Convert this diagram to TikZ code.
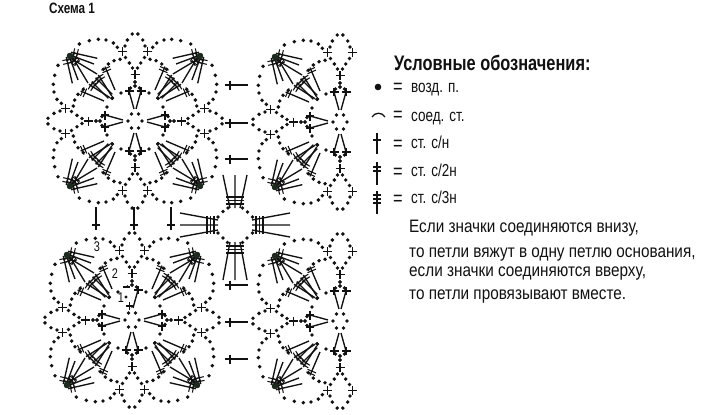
\documentclass[tikz,border=0pt]{standalone}
\usepackage{fontspec}
\usetikzlibrary{calc}
\newfontfamily\cond[FakeStretch=0.78]{Liberation Sans}
\newfontfamily\bodyf[FakeStretch=0.85]{Liberation Sans}
\definecolor{ink}{HTML}{111111}
\definecolor{blobc}{HTML}{1C2A1E}
\tikzset{
  oNL/.style={x={(1pt,0pt)},y={(0pt,-1pt)}},
  oNR/.style={x={(-1pt,0pt)},y={(0pt,-1pt)}},
  oSL/.style={x={(1pt,0pt)},y={(0pt,1pt)}},
  oSR/.style={x={(-1pt,0pt)},y={(0pt,1pt)}},
  oWU/.style={x={(0pt,-1pt)},y={(1pt,0pt)}},
  oWD/.style={x={(0pt,1pt)},y={(1pt,0pt)}},
  oEU/.style={x={(0pt,-1pt)},y={(-1pt,0pt)}},
  oED/.style={x={(0pt,1pt)},y={(-1pt,0pt)}},
  yarn/.style={draw=ink,line width=1.35pt},
  thin yarn/.style={draw=ink,line width=1.05pt},
  legendtext/.style={anchor=base west,inner sep=0pt,text=ink,font=\cond\fontsize{17.3}{19}\selectfont},
  eqtext/.style={anchor=base west,inner sep=0pt,text=ink,font=\cond\fontsize{21}{23}\selectfont},
  bodytext/.style={anchor=base west,inner sep=0pt,text=ink,font=\bodyf\fontsize{18}{20}\selectfont},
  marktext/.style={inner sep=0pt,text=ink,font=\cond\fontsize{14}{16}\selectfont},
}
\newcommand\ChainDots[1]{\foreach \p in {#1}{\fill[ink] \p circle[radius=1.95pt];}}
\newcommand\PlusAt[2]{\draw[yarn] (#1-4.5,#2)--(#1+4.5,#2) (#1,#2-4.5)--(#1,#2+4.5);}
\newcommand\TickedLine[6]{% x1 y1 x2 y2 pos1 pos2
  \path (#1,#2)--(#3,#4) coordinate[pos=#5](ta) coordinate[pos=#6](tb) coordinate[pos=1](tc);
  \draw[yarn] (#1,#2)--(#3,#4);
  \draw[thin yarn] ($(ta)!4.6pt!90:(tc)$)--($(ta)!4.6pt!-90:(tc)$);
  \draw[thin yarn] ($(tb)!4.6pt!90:(tc)$)--($(tb)!4.6pt!-90:(tc)$);
}
\newcommand\AxisPart{
  \ChainDots{(-2.8,-87),(-7.7,-81),(-10,-75),(-9.5,-63.5),(-5.7,-58),(-2.5,-53),
    (0,-39),(0,-35),(-4.5,-33)}
  \PlusAt{-12.3}{-69.3}
  \PlusAt{0}{-46.7}
  \draw[yarn] (-1,-12)--(-6,-30);
  \draw[thin yarn] (-10.5,-30)--(-1.5,-30) (-6,-34)--(-6,-26);
}
\newcommand\CornerPart{
  \ChainDots{(-17.7,-73.7),(-21.7,-78),(-29,-81),(-36.7,-81.7),(-45.7,-80.3),(-55.7,-77),
    (-15,-61.7),(-21,-60.3),(-26.7,-57),(-31.7,-51.7),(-14,-28),(-23,-22.7)}
  \TickedLine{-20}{-31}{-30}{-54.3}{.82}{.93}
  \TickedLine{-23.3}{-25}{-36.7}{-46}{.8}{.92}
  \TickedLine{-26.7}{-22.7}{-43.3}{-39.3}{.8}{.92}
  \TickedLine{-37.7}{-62.7}{-64}{-68.7}{.76}{.9}
  \TickedLine{-41}{-57}{-64}{-65.5}{.78}{.9}
  \TickedLine{-38}{-47}{-63}{-62}{.8}{.92}
  \fill[blobc] (-65,-65) circle[radius=3.2pt];
}
\newcommand\CenterRing{
  \ChainDots{(-3.5,-7),(3.5,-7),(-3.5,7),(3.5,7),(-7,0),(7,0)}
}
\newcommand\FullMotif[2]{
  \begin{scope}[shift={(#1,#2)}]
    \CenterRing
    \foreach \oct in {oNL,oNR,oSL,oSR,oWU,oWD,oEU,oED}{
      \begin{scope}[\oct]\AxisPart\CornerPart\end{scope}
    }
  \end{scope}
}
\newcommand\HalfMotif[2]{
  \begin{scope}[shift={(#1,#2)}]
    \CenterRing
    \foreach \oct in {oNL,oNR,oSL,oSR,oWU,oWD}{
      \begin{scope}[\oct]\AxisPart\end{scope}
    }
    \foreach \oct in {oNL,oSL,oWU,oWD}{
      \begin{scope}[\oct]\CornerPart\end{scope}
    }
  \end{scope}
}
\newcommand\MiddleFan[1]{
  \draw[yarn] (-5,-17)--(-12,-#1) (0,-17)--(0,-#1) (5,-17)--(12,-#1);
  \draw[thin yarn] (-9,-21)--(9,-21) (-9,-24.5)--(9,-24.5) (-9,-28)--(9,-28);
}
\begin{document}
\begin{tikzpicture}[x=1pt,y=-1pt]
\useasboundingbox (0,0) rectangle (702,415);
\fill[white] (0,0) rectangle (702,415);
\node[anchor=base west,inner sep=0pt,text=ink,font=\cond\bfseries\fontsize{15}{17}\selectfont] (title) at (49,13) {Схема 1};

\FullMotif{135}{121}
\FullMotif{132}{320}
\HalfMotif{340}{122}
\HalfMotif{340}{321}

\foreach \yy in {85,123,159,285,322,359}{
  \draw[yarn] (225,\yy)--(248,\yy);
  \draw[thin yarn] (230,\yy-4.5)--(230,\yy+4.5);
}
\foreach \xx in {96,134,171}{
  \draw[yarn] (\xx,207)--(\xx,230);
  \draw[thin yarn] (\xx-4,225)--(\xx+4,225);
}
\begin{scope}[shift={(235,225)}]
  \ChainDots{(-7,-17),(-12,-13.5),(-17,-8),(-17,8),(-12,13),(-7.5,17.5),(7.5,17.5),(12,13),(17.5,8),(17.5,-8),(12.5,-13),(7.5,-17)}
  \begin{scope}[oNL]\MiddleFan{50}\end{scope}
  \begin{scope}[oSL]\MiddleFan{55}\end{scope}
  \begin{scope}[oWU]\MiddleFan{55}\end{scope}
  \begin{scope}[oEU]\MiddleFan{55}\end{scope}
\end{scope}
\fill[white] (120,288) rectangle (130.6,308);
\draw[yarn] (129.5,310)--(129.5,302);
\draw[thin yarn] (125.5,306)--(133.5,306);
\draw[thin yarn] (123,287)--(130,287);
\fill[ink] (126,297) circle[radius=1.6pt];
\node[marktext] (n3) at (97,247) {3};
\node[marktext] (n2) at (115,274) {2};
\node[marktext] (n1) at (121,298) {1};

\node[anchor=base west,inner sep=0pt,text=ink,font=\cond\bfseries\fontsize{21}{23}\selectfont] (head) at (394,70) {Условные обозначения:};
\fill[ink] (378,87) circle[radius=3.3pt];
\draw[ink,line width=1.3pt] (372,117) .. controls (375,112) and (382,112) .. (385,117);
\draw[ink,line width=1.35pt] (377,133)--(377,154);
\draw[ink,line width=1.05pt] (373,140)--(381,140);
\draw[ink,line width=1.35pt] (377,162)--(377,185);
\draw[ink,line width=1.05pt] (373,167)--(381,167) (373,171)--(381,171);
\draw[ink,line width=1.35pt] (377,191)--(377,214);
\draw[ink,line width=1.05pt] (373,195)--(381,195) (373,199)--(381,199) (373,203)--(381,203);
\node[eqtext] (e1) at (393,93.5) {=};
\node[eqtext] (e2) at (393,121.5) {=};
\node[eqtext] (e3) at (393,150.5) {=};
\node[eqtext] (e4) at (393,178) {=};
\node[eqtext] (e5) at (393,205) {=};
\node[legendtext] (t1) at (411,92) {возд. п.};
\node[legendtext] (t2) at (411,121) {соед. ст.};
\node[legendtext] (t3) at (411,148.5) {ст. с/н};
\node[legendtext] (t4) at (411,176) {ст. с/2н};
\node[legendtext] (t5) at (411,203) {ст. с/3н};
\node[bodytext] (b1) at (409,232) {Если значки соединяются внизу,};
\node[bodytext] (b2) at (409,257) {то петли вяжут в одну петлю основания,};
\node[bodytext] (b3) at (409,276) {если значки соединяются вверху,};
\node[bodytext] (b4) at (409,299) {то петли провязывают вместе.};
\end{tikzpicture}
\end{document}
